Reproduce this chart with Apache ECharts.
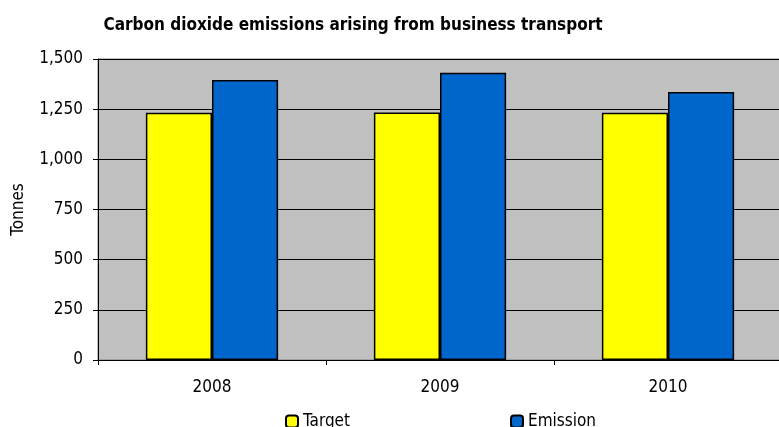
<!DOCTYPE html>
<html><head><meta charset="utf-8">
<script src="https://cdn.jsdelivr.net/npm/echarts@6/dist/echarts.min.js"></script>
<style>html,body{margin:0;padding:0;background:#fff}#c{width:779px;height:427px}</style>
</head><body><div id="c"></div>
<script>
const categories = ['2008', '2009', '2010'];
const targetValues = [1232, 1233, 1232];
const emissionValues = [1395, 1431, 1335];
const yTicks = [0, 250, 500, 750, 1000, 1250, 1500];

const chart = echarts.init(document.getElementById('c'), null, {renderer: 'canvas'});
const font = 'DejaVu Sans Condensed';
chart.setOption({
  animation: false,
  backgroundColor: '#ffffff',
  title: {
    text: 'Carbon dioxide emissions arising from business transport',
    left: 348, top: 12, textAlign: 'center',
    textStyle: {fontFamily: font, fontSize: 17, fontWeight: 'bold', color: '#000'}
  },
  legend: [
    {data: ['Target'], left: 280, top: 408, itemWidth: 12, itemHeight: 12, itemGap: 0,
     textStyle: {fontFamily: font, fontSize: 17, color: '#000'}},
    {data: ['Emission'], left: 505, top: 408, itemWidth: 12, itemHeight: 12, itemGap: 0,
     textStyle: {fontFamily: font, fontSize: 17, color: '#000'}}
  ],
  grid: {left: 98, right: -3, top: 59, bottom: 67, show: true, outerBoundsMode: 'none',
         containLabel: false,
         backgroundColor: '#c0c0c0', borderColor: '#808080', borderWidth: 1},
  xAxis: {
    type: 'category', data: categories,
    axisLine: {lineStyle: {color: '#000', width: 1}},
    axisTick: {show: true, length: 5, lineStyle: {color: '#000'}},
    axisLabel: {fontFamily: font, fontSize: 17, color: '#000', margin: 19}
  },
  yAxis: {
    type: 'value', min: yTicks[0], max: yTicks[yTicks.length - 1], interval: 250,
    name: 'Tonnes', nameLocation: 'middle', nameGap: 71, nameRotate: 90,
    nameTextStyle: {fontFamily: font, fontSize: 17, color: '#000'},
    axisLine: {show: true, lineStyle: {color: '#000', width: 1}},
    axisTick: {show: true, length: 5, lineStyle: {color: '#000'}},
    axisLabel: {fontFamily: font, fontSize: 17, color: '#000', margin: 15,
      formatter: v => v.toLocaleString('en-US')},
    splitLine: {show: true, lineStyle: {color: '#000', width: 1}}
  },
  series: [
    {name: 'Target', type: 'bar', data: targetValues, barGap: '0%', barCategoryGap: '42%',
     itemStyle: {color: '#ffff00', borderColor: '#000', borderWidth: 1.5}},
    {name: 'Emission', type: 'bar', data: emissionValues,
     itemStyle: {color: '#0066cc', borderColor: '#000', borderWidth: 1.5}}
  ]
});
</script></body></html>
